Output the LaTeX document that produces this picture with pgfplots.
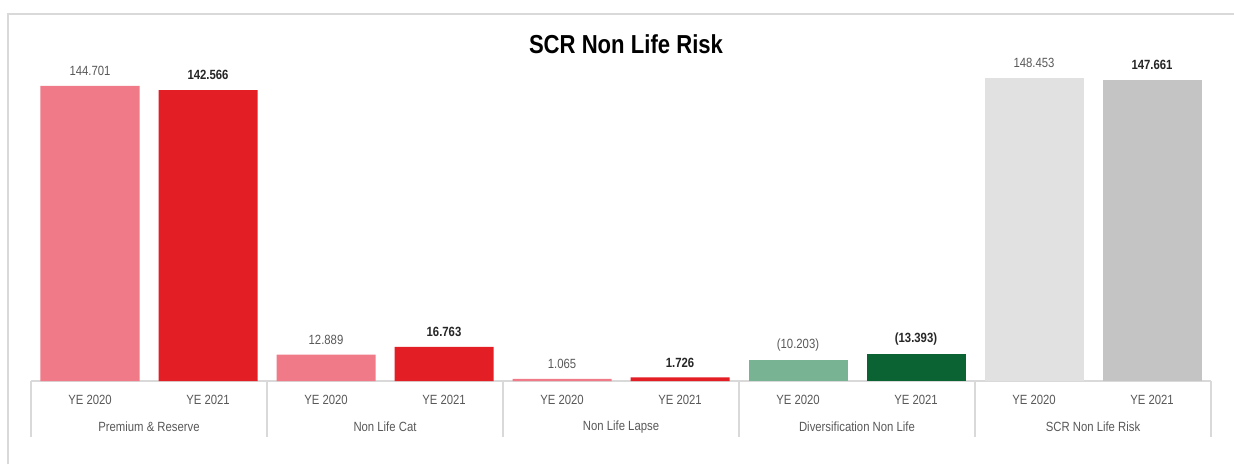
\documentclass[border=0pt]{standalone}
\usepackage{fontspec}
\setmainfont[FakeStretch=0.85]{Liberation Sans}
\usepackage{pgfplots}
\pgfplotsset{compat=1.18}
\definecolor{c20}{HTML}{F07A88}
\definecolor{c21}{HTML}{E41E25}
\definecolor{g20}{HTML}{78B394}
\definecolor{g21}{HTML}{0B6334}
\definecolor{s20}{HTML}{E0E1E0}
\definecolor{s21}{HTML}{C3C4C3}
\definecolor{lab20}{HTML}{595959}
\definecolor{lab21}{HTML}{262626}
\definecolor{framec}{HTML}{D9D9D9}
\begin{document}
\begin{tikzpicture}
\fill[white] (0,0) rectangle (925.5pt,348pt);
\draw[framec, line width=1pt] (6pt,0pt) -- (6pt,337.5pt) -- (925.5pt,337.5pt);
\node[font=\fontsize{19.5}{23}\bfseries\selectfont, text=black] at (469.5pt,315pt) {SCR Non Life Risk};
\begin{axis}[
  at={(23.25pt,62.25pt)}, anchor=south west,
  scale only axis, width=885pt, height=244.8pt,
  xmin=-0.5, xmax=9.5, ymin=0, ymax=160,
  ybar, bar width=74.25pt, bar shift=0pt,
  axis x line=bottom, axis y line=none,
  x axis line style={-, draw=framec, line width=0.8pt},
  xtick={0,...,9},
  xticklabels={YE 2020,YE 2021,YE 2020,YE 2021,YE 2020,YE 2021,YE 2020,YE 2021,YE 2020,YE 2021},
  major tick length=0pt,
  xticklabel style={anchor=center, yshift=-14.25pt, font=\fontsize{10}{12}\selectfont, text=lab20},
  extra x ticks={0.5,2.5,4.5,6.5,8.5},
  extra x tick labels={Premium \& Reserve,Non Life Cat,Non Life Lapse,Diversification Non Life,SCR Non Life Risk},
  extra x tick style={xticklabel style={yshift=-20.25pt}},
  point meta=explicit symbolic,
  nodes near coords,
  every node near coord/.append style={anchor=center, yshift=11.25pt, font=\fontsize{10}{12}\selectfont, text=lab20},
  clip=false,
]
\addplot[fill=c20, draw=none] table[x=x, y=y, meta=l] {
x y l
0 144.701 144.701
2 12.889 12.889
4 1.065 1.065
};
\addplot[fill=c21, draw=none, nodes near coords style={text=lab21, font=\fontsize{10}{12}\bfseries\selectfont}] table[x=x, y=y, meta=l] {
x y l
1 142.566 142.566
3 16.763 16.763
5 1.726 1.726
};
\addplot[fill=g20, draw=none] table[x=x, y=y, meta=l] {
x y l
6 10.203 (10.203)
};
\addplot[fill=g21, draw=none, nodes near coords style={text=lab21, font=\fontsize{10}{12}\bfseries\selectfont}] table[x=x, y=y, meta=l] {
x y l
7 13.393 (13.393)
};
\addplot[fill=s20, draw=none] table[x=x, y=y, meta=l] {
x y l
8 148.453 148.453
};
\addplot[fill=s21, draw=none, nodes near coords style={text=lab21, font=\fontsize{10}{12}\bfseries\selectfont}] table[x=x, y=y, meta=l] {
x y l
9 147.661 147.661
};
\pgfplotsinvokeforeach{-0.5,1.5,3.5,5.5,7.5,9.5}{
  \draw[framec, line width=0.8pt] (axis cs:#1,0) -- ++(0pt,-42pt);
}
\end{axis}
\pgfresetboundingbox
\useasboundingbox (0,0) rectangle (925.5pt,348pt);
\end{tikzpicture}
\end{document}
